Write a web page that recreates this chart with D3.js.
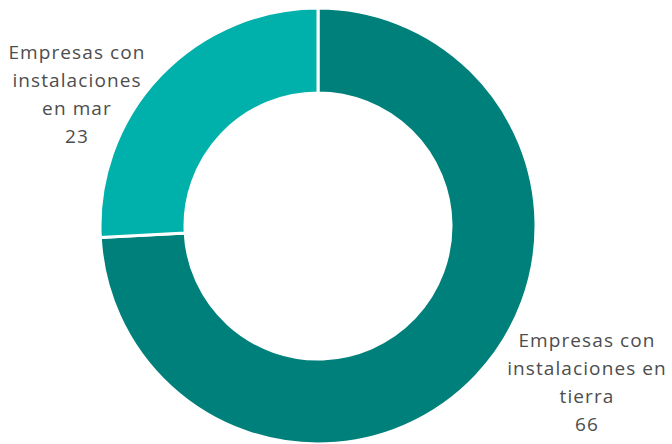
<!DOCTYPE html>
<html><head><meta charset="utf-8">
<script src="https://cdn.jsdelivr.net/npm/d3@7"></script>
<style>html,body{margin:0;padding:0;background:#fff}</style>
</head><body>
<svg id="c" width="672" height="444"></svg>
<script>
const categories = ["Empresas con instalaciones en tierra", "Empresas con instalaciones en mar"];
const values = [66, 23];
const labelLines = [["Empresas con", "instalaciones en", "tierra", "66"], ["Empresas con", "instalaciones", "en mar", "23"]];
const colors = ["#00807a", "#00b0aa"];

const svg = d3.select("#c");
const cx = 318, cy = 226, R = 218, r = 133;
const g = svg.append("g").attr("transform", `translate(${cx},${cy})`);
const pie = d3.pie().sort(null).value(d => d)(values);
const arc = d3.arc().innerRadius(r).outerRadius(R);
g.selectAll("path").data(pie).join("path")
  .attr("d", arc)
  .attr("fill", (d, i) => colors[i])
  .attr("stroke", "#fff").attr("stroke-width", 3);

const labelPos = [[587, 347], [77, 59]];
const lh = 28;
labelLines.forEach((lines, i) => {
  const t = svg.append("text")
    .attr("x", labelPos[i][0]).attr("y", labelPos[i][1])
    .attr("text-anchor", "middle")
    .attr("font-family", "'Open Sans', sans-serif")
    .attr("font-size", 19).attr("letter-spacing", 1.1).attr("fill", "#4d4d4d");
  lines.forEach((l, j) => t.append("tspan").attr("x", labelPos[i][0]).attr("y", labelPos[i][1] + j * lh).text(l));
});
</script>
</body></html>
